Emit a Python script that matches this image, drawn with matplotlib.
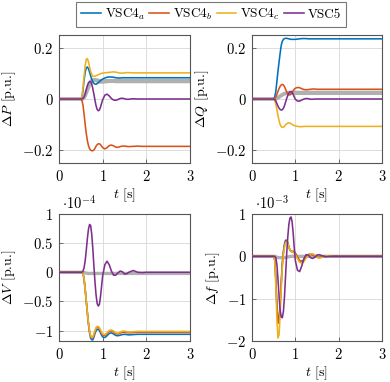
import matplotlib
matplotlib.use("Agg")
import matplotlib.pyplot as plt
from matplotlib.lines import Line2D

plt.rcParams.update({
    "font.family": "serif",
    "font.serif": ["cmr10"],
    "mathtext.fontset": "cm",
    "axes.unicode_minus": False,
    "font.size": 10,
})

# ---------------- data ----------------
t = [0, 0.5, 0.525, 0.55, 0.575, 0.6, 0.625, 0.65, 0.675, 0.7, 0.725, 0.75, 0.775,
     0.8, 0.825, 0.85, 0.875, 0.9, 0.925, 0.95, 0.975, 1.0, 1.05, 1.1, 1.15, 1.2,
     1.25, 1.3, 1.35, 1.4, 1.45, 1.5, 1.55, 1.6, 1.7, 1.8, 1.9, 2.0, 3.0]

series_names = ["VSC4$_a$", "VSC4$_b$", "VSC4$_c$", "VSC5"]

# Delta P [p.u.]
dP_a = [0, 0, 0.008, 0.035, 0.075, 0.105, 0.122, 0.125, 0.118, 0.105, 0.09, 0.077, 0.067,
        0.061, 0.058, 0.058, 0.06, 0.064, 0.068, 0.072, 0.075, 0.078, 0.082, 0.085, 0.086, 0.086,
        0.085, 0.083, 0.082, 0.082, 0.083, 0.083, 0.083, 0.083, 0.083, 0.083, 0.083, 0.083, 0.083]
dP_b = [0, 0, -0.005, -0.025, -0.06, -0.1, -0.135, -0.163, -0.182, -0.194, -0.2, -0.202, -0.202,
        -0.199, -0.192, -0.184, -0.178, -0.175, -0.175, -0.178, -0.184, -0.19, -0.195, -0.19, -0.182, -0.18,
        -0.183, -0.188, -0.189, -0.186, -0.184, -0.184, -0.185, -0.186, -0.185, -0.184, -0.185, -0.185, -0.185]
dP_c = [0, 0, 0.01, 0.045, 0.09, 0.13, 0.155, 0.158, 0.145, 0.125, 0.108, 0.096, 0.089,
        0.088, 0.089, 0.091, 0.093, 0.095, 0.097, 0.099, 0.1, 0.101, 0.102, 0.103, 0.104, 0.105,
        0.106, 0.105, 0.103, 0.101, 0.101, 0.102, 0.103, 0.103, 0.102, 0.102, 0.102, 0.102, 0.102]
dP_5 = [0, 0, 0.0005, 0.002, 0.008, 0.02, 0.036, 0.052, 0.063, 0.068, 0.068, 0.058, 0.04,
        0.018, -0.006, -0.027, -0.041, -0.046, -0.043, -0.032, -0.017, -0.003, 0.015, 0.019, 0.012, 0.002,
        -0.004, -0.005, -0.002, 0.002, 0.003, 0.001, -0.001, -0.001, 0.001, 0, 0, 0, 0]
dP_g1 = [0, 0, 0, 0.002, 0.008, 0.018, 0.03, 0.042, 0.053, 0.062, 0.069, 0.073, 0.075,
         0.075, 0.074, 0.072, 0.07, 0.068, 0.067, 0.066, 0.066, 0.066, 0.067, 0.068, 0.069, 0.069,
         0.069, 0.068, 0.068, 0.068, 0.068, 0.068, 0.068, 0.068, 0.068, 0.068, 0.068, 0.068, 0.068]
dP_g2 = [0, 0, 0, 0.001, 0.005, 0.012, 0.022, 0.033, 0.044, 0.054, 0.062, 0.068, 0.072,
         0.074, 0.075, 0.075, 0.074, 0.073, 0.072, 0.071, 0.071, 0.071, 0.071, 0.072, 0.072, 0.072,
         0.072, 0.072, 0.072, 0.072, 0.072, 0.072, 0.072, 0.072, 0.072, 0.072, 0.072, 0.072, 0.072]

# Delta Q [p.u.]
dQ_a = [0, 0, 0.008, 0.03, 0.07, 0.11, 0.145, 0.18, 0.21, 0.226, 0.233, 0.236, 0.237,
        0.237, 0.236, 0.235, 0.234, 0.233, 0.233, 0.233, 0.233, 0.233, 0.234, 0.235, 0.236, 0.236,
        0.236, 0.235, 0.235, 0.235, 0.235, 0.235, 0.235, 0.235, 0.235, 0.235, 0.235, 0.235, 0.235]
dQ_b = [0, 0, 0.002, 0.008, 0.018, 0.03, 0.041, 0.05, 0.055, 0.057, 0.055, 0.048, 0.038,
        0.028, 0.02, 0.016, 0.016, 0.02, 0.026, 0.032, 0.038, 0.042, 0.045, 0.044, 0.04, 0.037,
        0.036, 0.037, 0.038, 0.039, 0.039, 0.038, 0.038, 0.038, 0.038, 0.038, 0.038, 0.038, 0.038]
dQ_c = [0, 0, -0.005, -0.02, -0.042, -0.065, -0.085, -0.1, -0.108, -0.111, -0.11, -0.106, -0.101,
        -0.097, -0.094, -0.093, -0.094, -0.096, -0.099, -0.102, -0.104, -0.105, -0.107, -0.108, -0.108, -0.107,
        -0.107, -0.107, -0.107, -0.107, -0.107, -0.107, -0.107, -0.107, -0.107, -0.107, -0.107, -0.107, -0.107]
dQ_5 = [0, 0, -0.002, -0.008, -0.018, -0.028, -0.036, -0.041, -0.043, -0.042, -0.036, -0.026, -0.012,
        0.002, 0.014, 0.023, 0.028, 0.029, 0.026, 0.018, 0.008, -0.001, -0.008, -0.008, -0.004, 0.0,
        0.002, 0.001, -0.001, -0.001, 0, 0, 0, 0, 0, 0, 0, 0, 0]
dQ_g1 = [0, 0, 0, 0.001, 0.003, 0.006, 0.009, 0.012, 0.015, 0.017, 0.019, 0.02, 0.021,
         0.022, 0.022, 0.022, 0.022, 0.022, 0.022, 0.022, 0.022, 0.022, 0.022, 0.022, 0.022, 0.022,
         0.022, 0.022, 0.022, 0.022, 0.022, 0.022, 0.022, 0.022, 0.022, 0.022, 0.022, 0.022, 0.022]
dQ_g2 = [0, 0, 0, 0.0, 0.002, 0.004, 0.007, 0.01, 0.013, 0.016, 0.019, 0.021, 0.023,
         0.024, 0.025, 0.026, 0.026, 0.026, 0.026, 0.026, 0.026, 0.026, 0.026, 0.026, 0.026, 0.026,
         0.026, 0.026, 0.026, 0.026, 0.026, 0.026, 0.026, 0.026, 0.026, 0.026, 0.026, 0.026, 0.026]

# Delta V [1e-4 p.u.]
dV_a = [0, 0, 0, -0.02, -0.12, -0.3, -0.5, -0.7, -0.89, -1.04, -1.13, -1.16, -1.16,
        -1.11, -1.05, -1.0, -0.98, -0.98, -1.0, -1.04, -1.08, -1.11, -1.12, -1.09, -1.05, -1.04,
        -1.06, -1.085, -1.09, -1.08, -1.07, -1.065, -1.07, -1.075, -1.07, -1.065, -1.065, -1.065, -1.065]
dV_b = [0, 0, 0, -0.02, -0.12, -0.3, -0.5, -0.7, -0.88, -1.02, -1.1, -1.13, -1.12,
        -1.07, -1.01, -0.96, -0.945, -0.945, -0.965, -1.005, -1.045, -1.075, -1.085, -1.055, -1.015, -1.005,
        -1.025, -1.055, -1.06, -1.045, -1.03, -1.03, -1.035, -1.04, -1.035, -1.03, -1.03, -1.03, -1.03]
dV_c = [0, 0, 0, -0.02, -0.12, -0.3, -0.5, -0.7, -0.88, -1.01, -1.09, -1.12, -1.11,
        -1.06, -1.0, -0.95, -0.93, -0.93, -0.95, -0.99, -1.03, -1.06, -1.07, -1.04, -1.0, -0.99,
        -1.01, -1.04, -1.045, -1.03, -1.01, -1.01, -1.02, -1.025, -1.02, -1.015, -1.015, -1.015, -1.015]
dV_5 = [0, 0, 0.0, 0.02, 0.08, 0.2, 0.38, 0.58, 0.74, 0.82, 0.8, 0.65, 0.4,
        0.1, -0.18, -0.4, -0.54, -0.58, -0.55, -0.42, -0.24, -0.06, 0.13, 0.19, 0.13, 0.02,
        -0.05, -0.05, -0.01, 0.02, 0.01, -0.03, -0.025, 0.0, 0.03, 0.0, -0.005, 0, 0]
dV_g1 = [0, 0, 0, 0, -0.005, -0.01, -0.015, -0.018, -0.02, -0.02, -0.02, -0.02, -0.02,
         -0.02, -0.02, -0.02, -0.02, -0.02, -0.02, -0.02, -0.02, -0.02, -0.02, -0.02, -0.02, -0.02,
         -0.02, -0.02, -0.02, -0.02, -0.02, -0.02, -0.02, -0.02, -0.02, -0.02, -0.02, -0.02, -0.02]

# Delta f [1e-3 p.u.]
df_a = [0, 0, -0.08, -0.55, -1.2, -1.55, -1.5, -1.1, -0.6, -0.15, 0.12, 0.3, 0.38,
        0.38, 0.32, 0.23, 0.15, 0.12, 0.11, 0.11, 0.1, 0.07, -0.03, -0.11, -0.12, -0.08,
        -0.01, 0.04, 0.05, 0.04, 0.01, -0.02, -0.03, -0.02, 0.01, 0, 0, 0, 0]
df_b = [0, 0, -0.08, -0.55, -1.2, -1.58, -1.55, -1.15, -0.65, -0.2, 0.08, 0.25, 0.34,
        0.36, 0.31, 0.22, 0.15, 0.12, 0.12, 0.12, 0.11, 0.08, -0.02, -0.1, -0.12, -0.08,
        -0.01, 0.04, 0.05, 0.04, 0.01, -0.02, -0.03, -0.02, 0.01, 0, 0, 0, 0]
df_c = [0, 0, -0.1, -0.7, -1.5, -1.93, -1.85, -1.35, -0.75, -0.25, 0.05, 0.22, 0.32,
        0.34, 0.3, 0.22, 0.15, 0.12, 0.11, 0.1, 0.08, 0.04, -0.06, -0.14, -0.16, -0.12,
        -0.04, 0.03, 0.06, 0.06, 0.03, -0.02, -0.04, -0.03, 0.01, 0.01, -0.005, 0, 0]
df_5 = [0, 0, 0, -0.03, -0.2, -0.55, -0.95, -1.28, -1.43, -1.45, -1.3, -0.95, -0.45,
        0.05, 0.45, 0.75, 0.9, 0.93, 0.82, 0.55, 0.2, -0.1, -0.33, -0.36, -0.22, -0.05,
        0.04, 0.03, -0.03, -0.05, -0.02, 0.03, 0.04, 0.02, -0.01, 0, 0, 0, 0]
df_g1 = [0, 0, 0, -0.01, -0.02, -0.03, -0.03, -0.03, -0.03, -0.03, -0.03, -0.03, -0.025,
         -0.02, -0.015, -0.01, -0.005, 0, 0, 0, 0, 0, 0, 0, 0, 0,
         0, 0, 0, 0, 0, 0, 0, 0, 0, 0, 0, 0, 0]

# ---------------- style ----------------
colors = ["#0072BD", "#D95319", "#EDB120", "#7E2F8E"]
grey = "#b0b0b0"
frame = "#555555"
W, H = 390, 382

fig = plt.figure(figsize=(W / 100, H / 100), dpi=100)

def make_ax(left_px, top_px, right_px, bottom_px):
    return fig.add_axes([left_px / W, 1 - bottom_px / H,
                         (right_px - left_px) / W, (bottom_px - top_px) / H])

ax_P = make_ax(59, 35, 190, 163)
ax_Q = make_ax(252, 35, 382, 163)
ax_V = make_ax(59, 214, 190, 341)
ax_f = make_ax(252, 214, 382, 341)

panels = [
    (ax_P, [dP_g1, dP_g2], [dP_a, dP_b, dP_c, dP_5], r"$\Delta P$ [p.u.]",
     (-0.25, 0.25), [-0.2, 0, 0.2], [r"$-0.2$", r"$0$", r"$0.2$"], None),
    (ax_Q, [dQ_g1, dQ_g2], [dQ_a, dQ_b, dQ_c, dQ_5], r"$\Delta Q$ [p.u.]",
     (-0.25, 0.25), [-0.2, 0, 0.2], [r"$-0.2$", r"$0$", r"$0.2$"], None),
    (ax_V, [dV_g1], [dV_a, dV_b, dV_c, dV_5], r"$\Delta V$ [p.u.]",
     (-1.18, 1.0), [-1, -0.5, 0, 0.5, 1], [r"$-1$", r"$-0.5$", r"$0$", r"$0.5$", r"$1$"],
     r"$\cdot 10^{-4}$"),
    (ax_f, [df_g1], [df_a, df_b, df_c, df_5], r"$\Delta f$ [p.u.]",
     (-2.0, 1.0), [-2, -1, 0, 1], [r"$-2$", r"$-1$", r"$0$", r"$1$"],
     r"$\cdot 10^{-3}$"),
]

for ax, greys, ser, ylab, ylim, yt, ytl, scale in panels:
    for g in greys:
        ax.plot(t, g, color=grey, lw=2.4, zorder=2, solid_capstyle="round")
    for s, c in zip(ser, colors):
        ax.plot(t, s, color=c, lw=1.15, zorder=3)
    ax.set_xlim(0, 3)
    ax.set_ylim(*ylim)
    ax.set_xticks([0, 1, 2, 3])
    ax.set_xticklabels([r"$0$", r"$1$", r"$2$", r"$3$"])
    ax.set_yticks(yt)
    ax.set_yticklabels(ytl)
    ax.grid(True, color="#dcdcdc", lw=0.7, zorder=0)
    ax.set_axisbelow(True)
    ax.tick_params(direction="in", length=3, width=0.6, color=frame, labelsize=10.5, pad=4)
    for sp in ax.spines.values():
        sp.set_color(frame)
        sp.set_linewidth(0.8)
    ax.set_xlabel(r"$t$ [s]", fontsize=10, labelpad=2)
    ax.set_ylabel(ylab, fontsize=10, labelpad=3)
    if scale:
        ax.text(0.02, 1.015, scale, transform=ax.transAxes, ha="left", va="bottom", fontsize=10.5)

handles = [Line2D([], [], color=c, lw=1.15) for c in colors]
leg = fig.legend(handles, series_names, loc="upper center", bbox_to_anchor=(0.541, 0.998),
                 ncol=4, frameon=True, fancybox=False, edgecolor=frame, fontsize=9.5,
                 handlelength=1.5, handletextpad=0.3, columnspacing=0.3, borderpad=0.35,
                 borderaxespad=0.1)
leg.get_frame().set_linewidth(0.8)

fig.savefig("out.png", dpi=100)
